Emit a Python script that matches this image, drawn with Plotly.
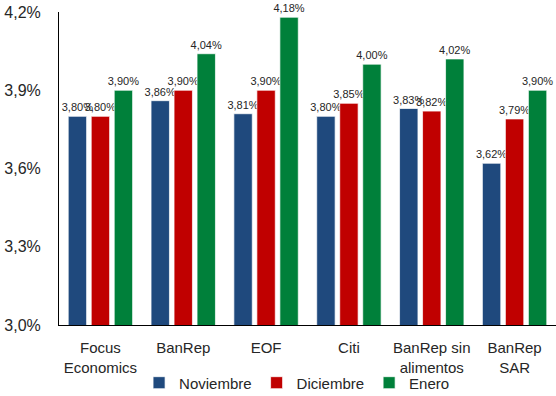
import plotly.graph_objects as go

categories = ["Focus<br>Economics", "BanRep", "EOF", "Citi", "BanRep sin<br>alimentos", "BanRep<br>SAR"]
noviembre = [3.80, 3.86, 3.81, 3.80, 3.83, 3.62]
diciembre = [3.80, 3.90, 3.90, 3.85, 3.82, 3.79]
enero = [3.90, 4.04, 4.18, 4.00, 4.02, 3.90]
tick_vals = [3.0, 3.3, 3.6, 3.9, 4.2]
tick_text = ["3,0%", "3,3%", "3,6%", "3,9%", "4,2%"]

series = [
    ("Noviembre", noviembre, "#1F497D"),
    ("Diciembre", diciembre, "#C00000"),
    ("Enero", enero, "#00803A"),
]

def fmt(v):
    return f"{v:.2f}".replace(".", ",") + "%"

fig = go.Figure()
for name, vals, color in series:
    fig.add_trace(go.Bar(
        x=categories, y=vals, name=name,
        marker=dict(color=color, line=dict(color="rgba(255,255,255,0.7)", width=1)),
        text=[fmt(v) for v in vals], textposition="outside",
        textfont=dict(size=11, color="#262626", family="Liberation Sans, Arial"),
        constraintext="none", cliponaxis=False,
    ))

fig.update_layout(
    width=556, height=396,
    margin=dict(l=59, r=0, t=12, b=71, autoexpand=False),
    paper_bgcolor="white", plot_bgcolor="white",
    barmode="group", bargap=0.167, bargroupgap=0.2,
    font=dict(family="Liberation Sans, Arial", size=15, color="#262626"),
    showlegend=True,
    legend=dict(orientation="h", x=0.479, xanchor="center",
                yref="container", y=0.033, yanchor="middle",
                bgcolor="rgba(0,0,0,0)",
                font=dict(size=15), traceorder="normal", itemwidth=30),
    xaxis=dict(showline=True, linecolor="black", linewidth=1, ticks="",
               tickfont=dict(size=15), showgrid=False, ticklabelstandoff=9),
    yaxis=dict(range=[3.0, 4.2], tickvals=tick_vals, ticktext=tick_text,
               showline=True, linecolor="black", linewidth=1, showgrid=False,
               zeroline=False, ticks="", tickfont=dict(size=16), ticklabelstandoff=14),
)

fig.write_html("out.html")
